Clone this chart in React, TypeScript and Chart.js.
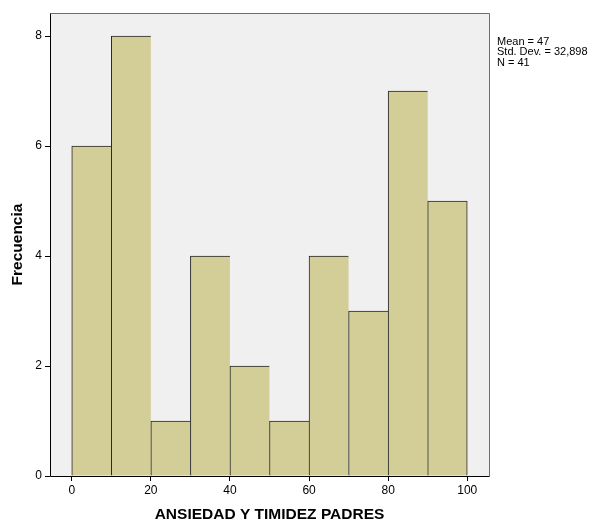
import React, { useEffect, useRef } from "react";
import { Chart, registerables } from "chart.js";
Chart.register(...registerables);

const binCenters = [5, 15, 25, 35, 45, 55, 65, 75, 85, 95];
const frequencies = [6, 8, 1, 4, 2, 1, 4, 3, 7, 5];
const statsLines = ["Mean = 47", "Std. Dev. = 32,898", "N = 41"];
const xTitle = "ANSIEDAD Y TIMIDEZ PADRES";
const yTitle = "Frecuencia";

const FONT = "'Liberation Sans', Arial, sans-serif";
const BAR_FILL = "#D3CE97";
const BAR_EDGE = "#262626";
const PLOT_BG = "#F0F0F0";

const framePlugin = {
  id: "frame",
  beforeDraw(chart: any) {
    const { ctx, chartArea: a } = chart;
    ctx.save();
    ctx.fillStyle = PLOT_BG;
    ctx.fillRect(a.left, a.top, a.right - a.left, a.bottom - a.top);
    ctx.restore();
  },
  afterDatasetsDraw(chart: any) {
    const { ctx, chartArea: a } = chart;
    ctx.save();
    ctx.lineWidth = 1;
    ctx.strokeStyle = "#6e6e6e";
    ctx.beginPath();
    ctx.moveTo(a.left + 0.5, a.top + 0.5);
    ctx.lineTo(a.right + 0.5, a.top + 0.5);
    ctx.lineTo(a.right + 0.5, a.bottom + 0.5);
    ctx.stroke();
    ctx.strokeStyle = "#000000";
    ctx.beginPath();
    ctx.moveTo(a.left + 0.5, a.top + 0.5);
    ctx.lineTo(a.left + 0.5, a.bottom + 0.5);
    ctx.lineTo(a.right + 0.5, a.bottom + 0.5);
    ctx.stroke();
    ctx.restore();
  },
  afterDraw(chart: any) {
    const { ctx, chartArea: a } = chart;
    ctx.save();
    ctx.fillStyle = "#000";
    ctx.font = `11px ${FONT}`;
    ctx.textBaseline = "middle";
    ctx.textAlign = "left";
    statsLines.forEach((t, i) => {
      ctx.fillText(t, a.right + 8, 41.5 + i * 10.5);
    });
    ctx.restore();
  },
};

export default function App() {
  const ref = useRef<HTMLCanvasElement | null>(null);
  useEffect(() => {
    if (!ref.current) return;
    const last = frequencies.length - 1;
    const chart = new Chart(ref.current, {
      type: "bar",
      data: {
        datasets: [
          {
            data: binCenters.map((x, i) => ({ x, y: frequencies[i] })),
            backgroundColor: BAR_FILL,
            borderColor: BAR_EDGE,
            borderSkipped: false,
            borderWidth: (c: any) =>
              c.dataIndex === last
                ? { left: 1, top: 1, right: 1, bottom: 0 }
                : { left: 1, top: 1, right: 0, bottom: 0 },
            barPercentage: 1,
            categoryPercentage: 1,
          } as any,
        ],
      },
      plugins: [framePlugin],
      options: {
        animation: false,
        responsive: false,
        devicePixelRatio: 1,
        layout: { padding: { left: 0, right: 103, top: 13, bottom: 0 } },
        plugins: { legend: { display: false }, tooltip: { enabled: false } },
        scales: {
          x: {
            type: "linear",
            min: -5.5,
            max: 105.5,
            offset: false,
            border: { display: false },
            grid: {
              offset: false,
              drawOnChartArea: false,
              drawTicks: true,
              tickLength: 5,
              color: "#000",
            },
            ticks: {
              stepSize: 20,
              includeBounds: false,
              color: "#000",
              padding: 2,
              maxRotation: 0,
              font: { family: FONT, size: 12 },
            },
            title: {
              display: true,
              text: xTitle,
              color: "#000",
              font: { family: FONT, size: 15.5, weight: "bold", lineHeight: 0.75 },
              padding: { top: 0, bottom: 0 },
            },
            afterFit: (s: any) => {
              s.height = 45;
            },
          } as any,
          y: {
            type: "linear",
            min: 0,
            max: 8.42,
            border: { display: false },
            grid: {
              offset: false,
              drawOnChartArea: false,
              drawTicks: true,
              tickLength: 5,
              color: "#000",
            },
            ticks: {
              stepSize: 2,
              includeBounds: false,
              color: "#000",
              padding: 3,
              font: { family: FONT, size: 12 },
            },
            title: {
              display: true,
              text: yTitle,
              color: "#000",
              font: { family: FONT, size: 15.5, weight: "bold", lineHeight: 1 },
              padding: { top: 10, bottom: 0 },
            },
            afterFit: (s: any) => {
              s.width = 50;
            },
          } as any,
        },
      },
    });
    return () => chart.destroy();
  }, []);
  return (
    <div style={{ position: "absolute", left: 0, top: 0, width: 592, height: 521, background: "#fff" }}>
      <canvas ref={ref} width={592} height={521} style={{ width: 592, height: 521, display: "block" }} />
    </div>
  );
}
